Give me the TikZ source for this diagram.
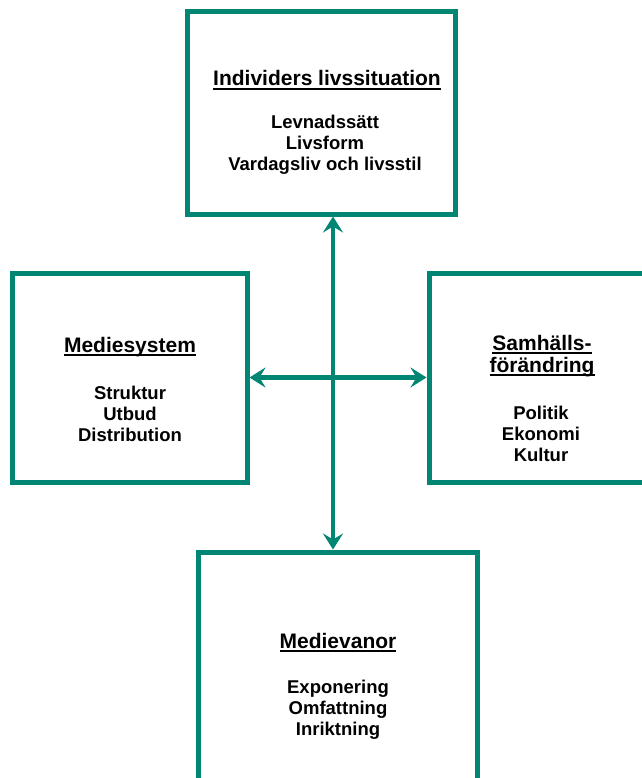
\documentclass[tikz,border=0pt]{standalone}
\usepackage{fontspec}
\setmainfont{Liberation Sans}
\usetikzlibrary{arrows.meta}
\definecolor{mediateal}{RGB}{0,134,114}
\newcommand{\ulhead}[1]{\setbox0\hbox{#1}\rlap{\vrule width\wd0 height -2.2pt depth 4.2pt}\box0}

\begin{document}
\begin{tikzpicture}[x=1pt,y=-1pt,>={Stealth[length=16pt,width=20pt,inset=6pt]},
    box/.style={draw=mediateal,line width=5pt,fill=none,inner sep=0pt},
    head/.style={anchor=base,align=center,inner sep=0pt,font=\fontsize{21}{22}\selectfont\bfseries},
    body/.style={anchor=base,align=center,inner sep=0pt,font=\fontsize{18.5}{21}\selectfont\bfseries},
    link/.style={<->,draw=mediateal,line width=4.5pt}]

            \useasboundingbox (0,0) rectangle (641,778);

            \node[box, minimum width=268, minimum height=202] (indiv) at (321,113) {};
            \node[box, minimum width=235, minimum height=209] (mediesys) at (129.5,377.5) {};
            \node[box, minimum width=226, minimum height=209] (samhall) at (542,377.5) {};
            \node[box, minimum width=279, minimum height=228] (vanor) at (337.5,666) {};

            \node[head] (indivhead) at (327,86) {\ulhead{Individers livssituation}};
            \node[body] (indivbody) at (325,171) {Levnadssätt\\Livsform\\Vardagsliv och livsstil};

            \node[head] (mediehead) at (130,352) {\ulhead{Mediesystem}};
            \node[body] (mediebody) at (130,441) {Struktur\\Utbud\\Distribution};

            \node[head] (samhead) at (542,372) {\ulhead{Samhälls-}\\\ulhead{förändring}};
            \node[body] (sambody) at (541,461) {Politik\\Ekonomi\\Kultur};

            \node[head] (vanorhead) at (338,648) {\ulhead{Medievanor}};
            \node[body] (vanorbody) at (338,735) {Exponering\\Omfattning\\Inriktning};

            \coordinate (hub) at (333,378);

            \draw[link] (mediesys.east) -- (samhall.west);
            \draw[link] (hub |- indiv.south) -- (hub |- vanor.north);

        \end{tikzpicture}
\end{document}
